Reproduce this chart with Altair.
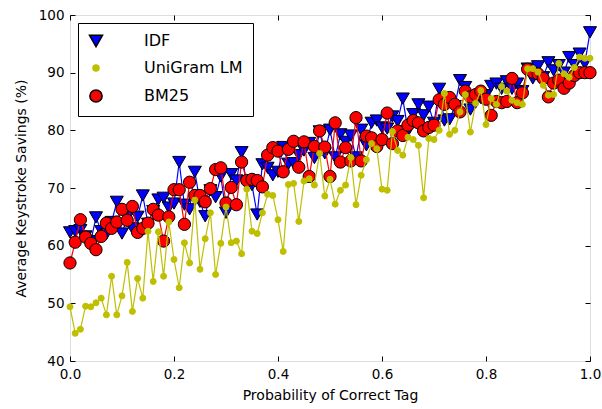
import altair as alt
import pandas as pd

x_vals = [round(i * 0.01, 2) for i in range(101)]

idf = [62.3, 62.5, 62.7, 61.6, 60.8, 64.9, 62.5, 62.0, 64.1, 67.6,
       62.1, 64.9, 63.0, 65.0, 68.7, 63.8, 66.0, 68.0, 68.3, 66.6,
       67.3, 74.5, 67.1, 66.3, 72.8,
       67.6, 65.1, 69.6, 68.4, 72.0, 65.7, 72.4, 71.3, 76.2, 70.5,
       70.5, 65.4, 74.1, 73.5, 72.2, 72.8, 77.1, 74.2, 74.3, 75.7,
       76.5, 77.8, 75.2,
       79.8, 76.0, 80.1, 75.3, 79.3, 78.0, 79.1, 75.3, 80.1, 77.4,
       81.3, 81.7, 80.5, 80.3, 82.4, 81.6, 85.5, 79.9, 82.8, 84.5,
       82.6, 84.1, 81.3, 87.2, 81.7, 81.9,
       84.2, 88.7, 87.5, 83.6, 84.8, 85.6, 86.1, 87.7, 88.1, 87.2,
       88.5, 87.2, 88.1, 86.8, 90.7, 89.0, 91.1, 89.2, 91.8, 90.4,
       91.3, 90.0, 92.7, 91.3, 93.3, 91.6, 97.0]

unigram = [49.4, 44.8, 45.5, 49.5, 49.4, 50.1, 50.9, 48.0, 54.7, 48.0,
           51.3, 57.1, 48.6, 54.3, 50.9, 62.5, 53.8, 62.4, 54.7, 64.1,
           57.6, 52.7, 60.5, 57.0, 67.9,
           55.9, 61.2, 65.7, 55.0, 60.4, 66.7, 60.5, 60.8, 58.6, 69.8,
           62.5, 62.1, 65.7, 68.9, 68.7, 64.5, 59.0, 70.6, 70.8, 64.2,
           71.2, 71.6, 70.5,
           76.0, 68.6, 71.5, 67.2, 69.6, 70.5, 75.3, 67.1, 72.2, 74.9,
           77.7, 76.8, 69.8, 69.6, 79.8, 76.5, 75.7, 78.8, 78.4, 77.4,
           68.3, 78.6, 78.4, 80.0, 86.4, 79.3,
           80.0, 83.2, 86.2, 79.7, 84.7, 86.9, 81.0, 85.5, 84.5, 87.6,
           86.8, 85.2, 84.8, 84.5, 90.7, 90.7, 90.1, 87.8, 86.1, 86.2,
           91.6, 89.8, 89.2, 90.9, 92.7, 92.5, 92.5]

bm25 = [57.0, 60.6, 64.5, 61.5, 60.4, 59.3, 61.6, 63.9, 63.0, 64.1,
        66.3, 64.4, 66.8, 62.3, 63.0, 63.9, 66.3, 65.3, 60.8, 65.0,
        69.7, 69.7, 63.7, 71.0, 68.7,
        68.7, 67.6, 69.9, 73.2, 73.5, 67.4, 70.1, 67.1, 74.5, 71.3,
        71.5, 71.3, 70.2, 75.7, 77.0, 76.4, 72.8, 76.7, 78.1, 73.6,
        78.0, 72.0, 77.2,
        79.9, 77.1, 72.0, 81.3, 74.5, 77.0, 74.7, 82.2, 74.7, 79.0,
        78.7, 77.2, 78.4, 83.0, 77.7, 79.9, 79.1, 80.9, 81.7, 81.3,
        79.9, 80.5, 80.9, 85.3, 84.5, 85.7,
        84.5, 83.2, 86.8, 85.8, 86.2, 86.8, 85.4, 82.6, 85.0, 84.8,
        85.0, 89.0, 84.8, 86.5, 90.6, 90.1, 89.8, 89.0, 85.8, 88.2,
        88.7, 87.3, 88.2, 89.5, 90.0, 90.0, 90.0]

series_names = ["IDF", "UniGram LM", "BM25"]
series_colors = ["#0000ff", "#bfbf00", "#ff0000"]
series_shapes = ["triangle-down", "circle", "circle"]
series_sizes = [170, 36, 150]
series_edges = ["#000000", "#bfbf00", "#000000"]

frames = []
for name, vals in zip(series_names, [idf, unigram, bm25]):
    frames.append(pd.DataFrame({"x": x_vals, "value": vals, "series": name}))
df = pd.concat(frames, ignore_index=True)

FONT = "DejaVu Sans"
x_scale = alt.Scale(domain=[0, 1], nice=False, zero=False, padding=0)
y_scale = alt.Scale(domain=[40, 100], nice=False, zero=False, padding=0)

xenc = alt.X("x:Q", scale=x_scale, axis=None)
yenc = alt.Y("value:Q", scale=y_scale, axis=None)

legend = alt.Legend(orient="top-left", offset=8, padding=10, strokeColor="black",
                    fillColor="white", cornerRadius=0, labelFont=FONT, labelFontSize=16,
                    labelColor="black", labelOffset=40, rowPadding=10, title=None)
color_enc = alt.Color("series:N", scale=alt.Scale(domain=series_names, range=series_colors),
                      legend=legend)
shape_enc = alt.Shape("series:N", scale=alt.Scale(domain=series_names, range=series_shapes),
                      legend=legend)
size_enc = alt.Size("series:N", scale=alt.Scale(type="ordinal", domain=series_names,
                                                range=series_sizes), legend=legend)
stroke_enc = alt.Stroke("series:N", scale=alt.Scale(domain=series_names, range=series_edges),
                        legend=legend)

layers = []
axis_common = dict(grid=False, domain=False, tickSize=5, offset=-5, tickColor="black",
                   labelFont=FONT, labelFontSize=13.5, labelColor="black", labelFlush=False,
                   titleFont=FONT, titleFontSize=14, titleFontWeight="normal", titleColor="black")
layers.append(
    alt.Chart(df).mark_point(opacity=0).encode(
        x=alt.X("x:Q", scale=x_scale,
                axis=alt.Axis(orient="bottom", values=[0, 0.2, 0.4, 0.6, 0.8, 1.0], format=".1f",
                              title="Probability of Correct Tag", labelPadding=6, titlePadding=8,
                              **axis_common)),
        y=alt.Y("value:Q", scale=y_scale,
                axis=alt.Axis(orient="left", values=[40, 50, 60, 70, 80, 90, 100], format="d",
                              title="Average Keystroke Savings (%)", labelPadding=6, titlePadding=10,
                              **axis_common)),
    )
)
layers.append(
    alt.Chart(df).mark_point(opacity=0).encode(
        x=alt.X("x:Q", scale=x_scale,
                axis=alt.Axis(orient="top", values=[0, 0.2, 0.4, 0.6, 0.8, 1.0], labels=False,
                              title=None, grid=False, domain=False, tickSize=5, offset=-5,
                              tickColor="black")),
        y=alt.Y("value:Q", scale=y_scale,
                axis=alt.Axis(orient="right", values=[40, 50, 60, 70, 80, 90, 100], labels=False,
                              title=None, grid=False, domain=False, tickSize=5, offset=-5,
                              tickColor="black")),
    )
)

draw_order = ["IDF", "BM25", "UniGram LM"]
for name in draw_order:
    c = series_colors[series_names.index(name)]
    sub = df[df["series"] == name]
    layers.append(
        alt.Chart(sub).mark_line(color=c, strokeWidth=1.2).encode(x=xenc, y=yenc)
    )
    layers.append(
        alt.Chart(sub).mark_point(filled=True, opacity=1, strokeWidth=1).encode(
            x=xenc, y=yenc, color=color_enc, shape=shape_enc, size=size_enc, stroke=stroke_enc
        )
    )

chart = alt.layer(*layers).resolve_axis(x="independent", y="independent").properties(
    width=520, height=346,
    autosize=alt.AutoSizeParams(type="none"),
    padding={"left": 70, "top": 15, "right": 12, "bottom": 48},
).configure_view(
    stroke="black", strokeWidth=1.2
).configure_legend(
    symbolStrokeWidth=1, symbolOpacity=1,
).configure(background="white")

chart.save("out.html", embed_options={"renderer": "svg", "actions": False})
